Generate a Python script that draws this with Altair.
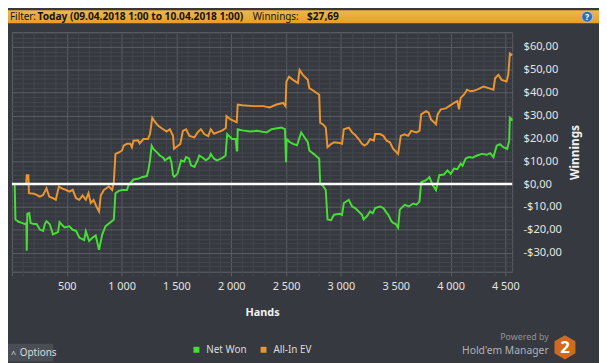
import altair as alt
import pandas as pd

# ---------------- data ----------------
net_hands = [0, 25, 32, 60, 90, 120, 132, 135, 140, 158, 170, 200, 225, 254, 284, 300, 315, 344, 374,
             420, 434, 479, 524, 554, 585, 614, 659, 674, 704, 734, 764, 794, 824, 854, 899, 929, 944,
             974, 1004, 1049, 1064, 1109, 1150, 1184, 1230, 1244, 1259, 1274, 1290, 1320, 1349, 1380,
             1394, 1439, 1455, 1469, 1480, 1510, 1543, 1570, 1588, 1615, 1633, 1664, 1693, 1709, 1740,
             1768, 1800, 1813, 1843, 1870, 1920, 1948, 1963, 1980, 2008, 2040, 2050, 2055, 2059, 2100,
             2173, 2233, 2323, 2368, 2458, 2490, 2500, 2505, 2530, 2563, 2600, 2638, 2660, 2698, 2712,
             2757, 2802, 2811, 2840, 2862, 2878, 2910, 2937, 2990, 3010, 3027, 3072, 3102, 3130, 3162,
             3192, 3207, 3237, 3267, 3290, 3312, 3357, 3387, 3417, 3432, 3462, 3477, 3500, 3522, 3537,
             3582, 3620, 3660, 3690, 3717, 3732, 3777, 3807, 3837, 3867, 3880, 3897, 3940, 3972, 4002,
             4032, 4062, 4092, 4110, 4137, 4167, 4200, 4241, 4286, 4330, 4361, 4391, 4421, 4450, 4481,
             4517, 4535, 4541, 4555, 4562]
net_won = [0, 0, -15.5, -16.5, -17, -17.5, -17, -29.2, -13, -12.7, -17, -17.5, -17.5, -19.9, -20.5,
           -17.5, -16.3, -17.5, -22, -21, -16.7, -19, -18.5, -20, -20.5, -23.4, -24.5, -20.6, -24.9,
           -23.5, -22.5, -28.8, -22, -18.4, -16.7, -15.5, -4.0, -3.0, -2.6, -2.6, -0.4, 2.0, 2.3, 3.0,
           3.5, 6.0, 10.4, 16.8, 15.4, 14, 12.5, 11.5, 10.4, 11.8, 9.5, 3.9, 3.2, 4.5, 10.4, 9.8, 11.8,
           11.2, 8.2, 7.5, 10.4, 12.5, 11.5, 10.4, 11.5, 13.2, 11.1, 10.4, 11.5, 12.5, 21.9, 21.0, 19.7,
           19.7, 14.7, 14.7, 24.0, 23.5, 23.0, 23.3, 22.6, 24.0, 24.7, 24.0, 9.6, 19.7, 18.5, 17.6, 17.0,
           22.6, 21, 18.3, 14.7, 13, 11.1, 0.3, -1.0, -2.6, -15.5, -15.8, -13.4, -13, -13.5, -8.3, -6.9,
           -9.8, -10.5, -12.0, -13.4, -15.5, -14.1, -12.0, -12.8, -10.5, -9.8, -10.5, -12.6, -13.4,
           -16.3, -17.0, -17.5, -19.1, -11.2, -9.1, -9.8, -8.5, -9.0, -7.6, 0.8, 1.7, 3.0, -0.4, -2.6,
           0, 3.9, 4.2, 6.0, 4.5, 6.8, 6.5, 8.9, 8.0, 11.1, 11.8, 11.5, 12.5, 13.2, 12.8, 13.5, 11.8,
           16.8, 17.5, 16.1, 15.4, 19.0, 29.0, 28.5, 27.69]

ev_hands = [0, 130, 135, 150, 155, 200, 225, 254, 284, 315, 340, 374, 400, 428, 460, 490, 524, 554,
            585, 614, 644, 674, 698, 719, 745, 770, 794, 810, 839, 870, 884, 914, 929, 944, 974, 1004,
            1019, 1049, 1080, 1094, 1109, 1150, 1165, 1199, 1240, 1259, 1280, 1300, 1334, 1379, 1410,
            1440, 1469, 1478, 1514, 1535, 1559, 1588, 1619, 1664, 1693, 1723, 1754, 1790, 1813, 1843,
            1873, 1920, 1950, 1957, 1993, 2023, 2050, 2059, 2100, 2200, 2293, 2350, 2413, 2473, 2495,
            2503, 2527, 2563, 2608, 2623, 2653, 2698, 2712, 2757, 2802, 2811, 2840, 2862, 2878, 2910,
            2937, 2990, 3010, 3027, 3072, 3102, 3130, 3162, 3192, 3215, 3240, 3267, 3300, 3312, 3357,
            3387, 3417, 3447, 3477, 3507, 3522, 3546, 3580, 3613, 3642, 3688, 3717, 3732, 3777, 3800,
            3822, 3867, 3882, 3912, 3957, 3987, 4032, 4062, 4077, 4092, 4122, 4151, 4181, 4210, 4241,
            4271, 4301, 4346, 4391, 4406, 4436, 4466, 4511, 4526, 4541, 4562]
ev_won = [0, 0, 3.9, 3.9, -4.0, -4.2, -4.7, -5.5, -4.8, -1.9, -5.5, -6.2, -6.9, -1.1, -2.0, -2.5, -3.3,
          -2.5, -6.2, -6.9, -5, -6.9, -4.0, -8.3, -7, -9.8, -12.0, -5, -2.6, -1.5, -1.1, -2.6, 1.0, 13.2,
          13.8, 14.7, 16.8, 17.6, 17.6, 16.1, 19.0, 19.2, 17.8, 19.7, 19.7, 21.9, 29.0, 27.5, 25.5, 24.0,
          23, 24, 21.1, 15.4, 16.8, 17.5, 23.3, 24.0, 21.1, 20.4, 22.6, 24.0, 21.9, 21, 24.0, 22, 22.6,
          23.5, 24.5, 29.8, 28.3, 27.6, 27, 34.8, 34.5, 34.1, 34.1, 33.5, 34.8, 35.5, 34.1, 44.9, 47.0,
          45.6, 44.2, 49.9, 47.8, 45.6, 42.0, 40.6, 39.1, 26.9, 26, 24.7, 16.1, 17.5, 18.3, 18, 17.6,
          24.0, 24.7, 22.6, 21.5, 19.7, 17.6, 16.8, 17.6, 19.7, 19, 21.9, 21.9, 21.1, 19.0, 18.3, 15.4,
          13.9, 13.2, 21.1, 21.8, 21.1, 23.3, 22.6, 23.3, 30.5, 31.9, 31.2, 28.3, 26.2, 30.5, 32.7, 33.1,
          34.1, 35.5, 36.3, 32.7, 37.7, 39.1, 41.3, 40.6, 40.8, 41.3, 42.0, 42.7, 42.0, 41.3, 46.3, 47.8,
          45.6, 44.9, 47.8, 57.1, 56.4]

series_names = ["Net Won", "All-In EV"]
series_colors = ["#46dd36", "#e99530"]

x_ticks = list(range(0, 4600, 100))
y_ticks = list(range(-38, 67, 2))

header_parts = ["Filter:", "Today (09.04.2018 1:00 to 10.04.2018 1:00)", "Winnings:", "$27,69"]

# ---------------- styling ----------------
BG = "#36393f"
MAJOR = "#5b5e64"
MINOR = "#44474d"
LABEL = "#e4e4e4"
FONT = "Noto Sans"

df = pd.concat([
    pd.DataFrame({"hand": net_hands, "value": net_won, "series": series_names[0]}),
    pd.DataFrame({"hand": ev_hands, "value": ev_won, "series": series_names[1]}),
], ignore_index=True)
df["order"] = range(len(df))

x_scale = alt.Scale(domain=[0, 4562], nice=False, zero=False)
y_scale = alt.Scale(domain=[-38.4, 66.5], nice=False, zero=False)

x_axis = alt.Axis(
    values=x_ticks, grid=True, domain=False, labelOverlap=False,
    gridColor={"condition": {"test": "datum.value % 500 === 0", "value": MAJOR}, "value": MINOR},
    tickColor={"condition": {"test": "datum.value % 500 === 0", "value": MAJOR}, "value": MINOR},
    tickSize=4, labelPadding=5, labelFont=FONT, labelFontSize=11, labelColor=LABEL,
    labelExpr="datum.value % 500 === 0 && datum.value > 0 ? replace(format(datum.value, ','), ',', ' ') : ''",
    title="Hands", titleFont=FONT, titleFontSize=11, titleFontWeight="bold", titleColor="#f2f2f2",
    titlePadding=15,
)
y_axis = alt.Axis(
    orient="right", values=y_ticks, grid=True, domain=False, ticks=False, labelOverlap=False,
    gridColor={"condition": {"test": "datum.value % 10 === 0", "value": MAJOR}, "value": MINOR},
    labelPadding=11, labelFont=FONT, labelFontSize=11.3, labelColor=LABEL,
    labelExpr=("datum.value % 10 === 0 ? replace(replace(format(datum.value, '$.2f'), '.', ','), "
               "'\u2212', '-') : ''"),
    title="Winnings", titleFont=FONT, titleFontSize=12, titleFontWeight="bold", titleColor="#f2f2f2",
    titleAngle=270, titleBaseline="top", titlePadding=8,
)

lines = alt.Chart(df).mark_line(strokeWidth=2, strokeJoin="miter").encode(
    x=alt.X("hand:Q", scale=x_scale, axis=x_axis),
    y=alt.Y("value:Q", scale=y_scale, axis=y_axis),
    order="order:Q",
    color=alt.Color(
        "series:N",
        scale=alt.Scale(domain=series_names, range=series_colors),
        legend=alt.Legend(
            orient="none", legendX=182, legendY=317, direction="horizontal", title=None,
            symbolType="square", symbolSize=4, symbolStrokeWidth=4,
            labelFont=FONT, labelFontSize=10, labelColor="#dcdcdc", labelOffset=5,
            columnPadding=8,
        ),
    ),
)

one = alt.Data(values=[{"a": 1}])

zero_rule = alt.Chart(one).mark_rule(color="#ffffff", strokeWidth=2.5).encode(
    y=alt.Y(datum=0, scale=y_scale, axis=None))

header_bar = alt.Chart(one).mark_rect(
    color={"gradient": "linear", "x1": 0, "y1": 0, "x2": 0, "y2": 1,
           "stops": [{"offset": 0, "color": "#f1b64a"}, {"offset": 1, "color": "#e39f2d"}]}
).encode(x=alt.value(-4), x2=alt.value(600), y=alt.value(-22), y2=alt.value(-9))

hdr_y = -15.5
hdr = []
for txt, xpos, bold in zip(header_parts, [-2, 26, 244, 299], [False, True, False, True]):
    hdr.append(alt.Chart(one).mark_text(
        text=txt, align="left", baseline="middle", font=FONT,
        fontSize=10.3 if bold else 10,
        fontWeight="bold" if bold else "normal", color="#141414"
    ).encode(x=alt.value(xpos), y=alt.value(hdr_y)))

help_circle = alt.Chart(one).mark_circle(size=120, color="#2e6db4", opacity=1,
                                          stroke="#9cc3ee", strokeWidth=1).encode(
    x=alt.value(583), y=alt.value(hdr_y))
help_q = alt.Chart(one).mark_text(text="?", font=FONT, fontSize=9, fontWeight="bold",
                                  color="#ffffff", baseline="middle").encode(
    x=alt.value(583), y=alt.value(hdr_y))

opt_bg = alt.Chart(one).mark_rect(color="#4a4d53").encode(
    x=alt.value(-4), x2=alt.value(42), y=alt.value(316), y2=alt.value(334))
opt_caret = alt.Chart(one).mark_text(text="^", font=FONT, fontSize=9, color="#dddddd",
                                     align="left", baseline="middle").encode(
    x=alt.value(-1), y=alt.value(326))
opt_text = alt.Chart(one).mark_text(text="Options", font=FONT, fontSize=10, color="#dddddd",
                                    align="left", baseline="middle").encode(
    x=alt.value(8), y=alt.value(325))

powered = alt.Chart(one).mark_text(text="Powered by", font=FONT, fontSize=9, color="#8f9297",
                                   align="right", baseline="middle").encode(
    x=alt.value(544), y=alt.value(309.5))
hem = alt.Chart(one).mark_text(text="Hold'em Manager", font=FONT, fontSize=10.5, color="#aeb1b6",
                               align="right", baseline="middle").encode(
    x=alt.value(544), y=alt.value(323))
hexagon = alt.Chart(one).mark_point(
    shape="M0,-1L0.866,-0.5L0.866,0.5L0,1L-0.866,0.5L-0.866,-0.5Z",
    size=600, filled=True, color="#cf6a20", opacity=1).encode(
    x=alt.value(560.5), y=alt.value(319.5))
hex2 = alt.Chart(one).mark_text(text="2", font=FONT, fontSize=17, fontWeight="bold",
                                color="#ffffff", baseline="middle").encode(
    x=alt.value(560.5), y=alt.value(320))

chart = alt.layer(
    lines, zero_rule, header_bar, *hdr, help_circle, help_q,
    opt_bg, opt_caret, opt_text, powered, hem, hexagon, hex2,
).resolve_axis(
    y="independent",
).properties(
    width=507, height=243,
    background=BG,
    padding={"left": 4, "top": 22, "right": 88, "bottom": 90},
    autosize=alt.AutoSizeParams(type="none"),
).configure_view(
    stroke=MAJOR, strokeWidth=1, fill=BG,
)

chart.save("out.html", embed_options={"renderer": "svg", "actions": False})
